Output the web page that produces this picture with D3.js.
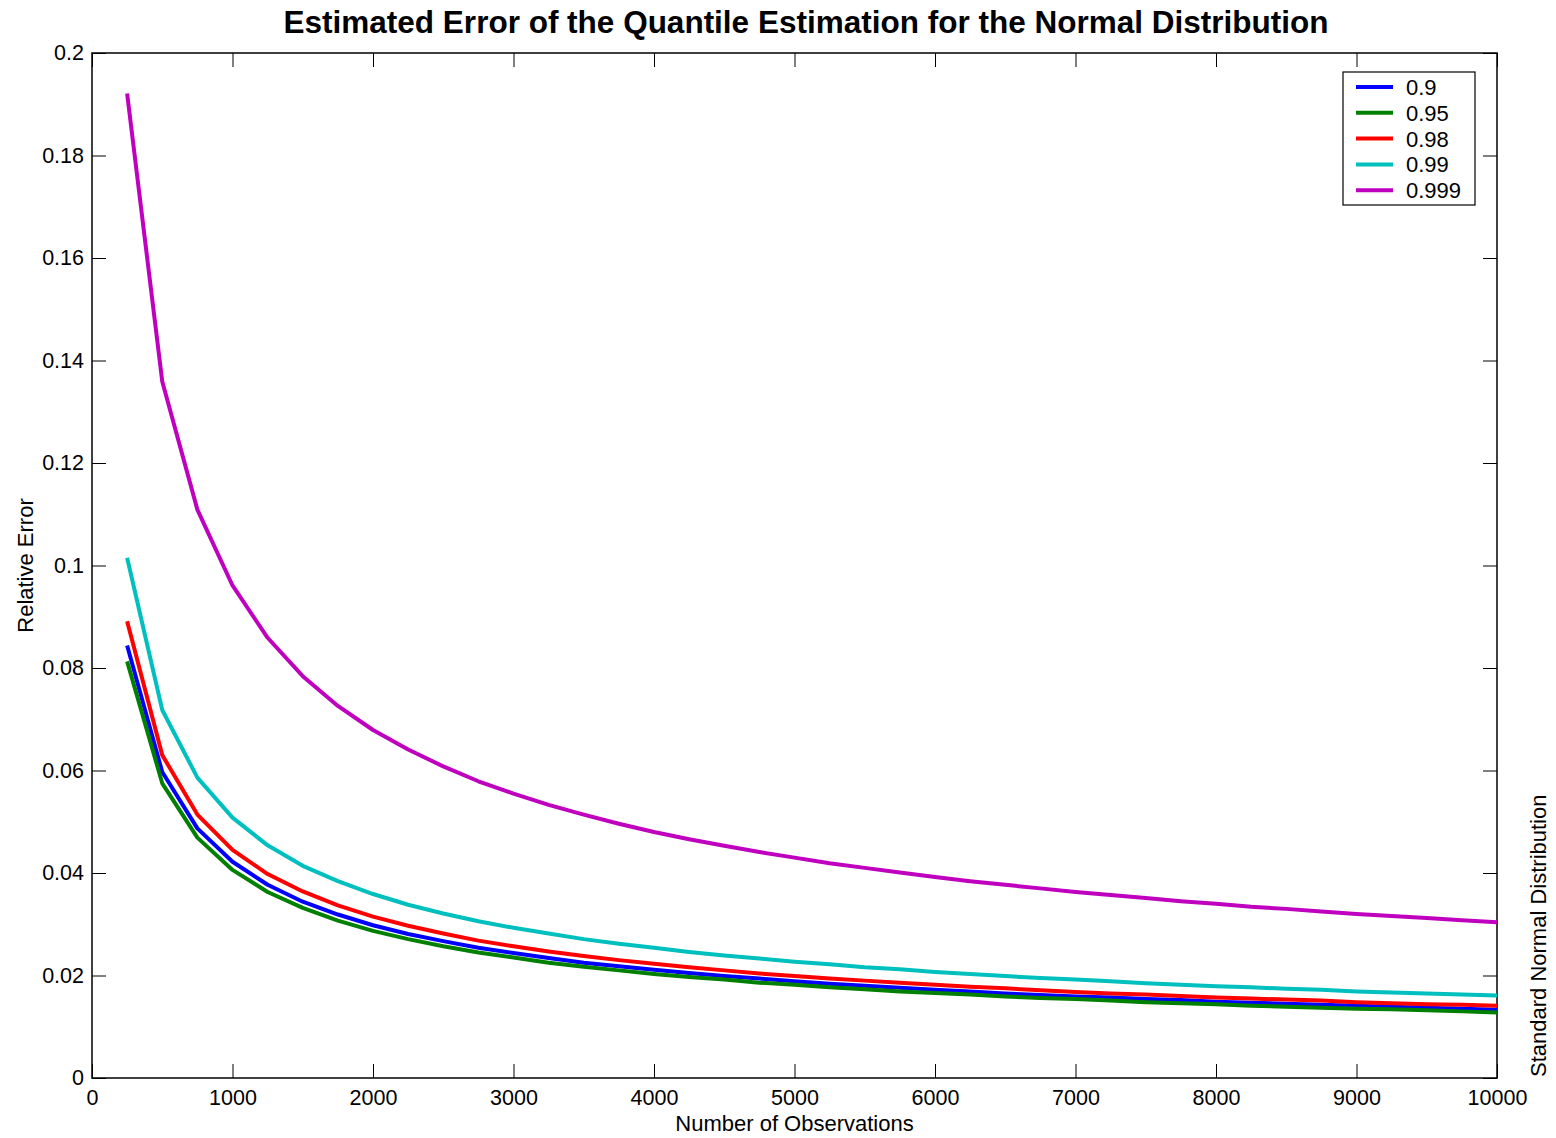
<!DOCTYPE html>
<html>
<head>
<meta charset="utf-8">
<script src="https://cdn.jsdelivr.net/npm/d3@7"></script>
<style>
  html, body { margin: 0; padding: 0; background: #fff; }
  svg { display: block; font-family: "Liberation Sans", Arial, Helvetica, sans-serif; }
</style>
</head>
<body>
<svg id="chart" width="1556" height="1138"></svg>
<script>
// Sample sizes (number of observations)
const observations = [
  250, 500, 750, 1000, 1250, 1500, 1750, 2000, 2250, 2500,
  2750, 3000, 3250, 3500, 3750, 4000, 4250, 4500, 4750, 5000,
  5250, 5500, 5750, 6000, 6250, 6500, 6750, 7000, 7250, 7500,
  7750, 8000, 8250, 8500, 8750, 9000, 9250, 9500, 9750, 10000
];

// Relative error of the estimated quantile, one array per probability level
const err090 = [
  0.0844, 0.0597, 0.0487, 0.0422, 0.0377, 0.0344, 0.0319, 0.0298, 0.0281, 0.0267,
  0.0254, 0.0244, 0.0234, 0.0225, 0.0218, 0.0211, 0.0205, 0.0199, 0.0194, 0.0189,
  0.0184, 0.0180, 0.0176, 0.0172, 0.0169, 0.0165, 0.0162, 0.0159, 0.0157, 0.0154,
  0.0152, 0.0149, 0.0147, 0.0145, 0.0143, 0.0141, 0.0139, 0.0137, 0.0135, 0.0133
];
const err095 = [
  0.0813, 0.0575, 0.0469, 0.0406, 0.0363, 0.0332, 0.0307, 0.0287, 0.0271, 0.0257,
  0.0245, 0.0235, 0.0225, 0.0217, 0.0210, 0.0203, 0.0197, 0.0192, 0.0186, 0.0182,
  0.0177, 0.0173, 0.0169, 0.0166, 0.0163, 0.0159, 0.0156, 0.0154, 0.0151, 0.0148,
  0.0146, 0.0144, 0.0141, 0.0139, 0.0137, 0.0135, 0.0134, 0.0132, 0.0130, 0.0128
];
const err098 = [
  0.0891, 0.0630, 0.0514, 0.0445, 0.0398, 0.0364, 0.0337, 0.0315, 0.0297, 0.0282,
  0.0268, 0.0257, 0.0247, 0.0238, 0.0230, 0.0223, 0.0216, 0.0210, 0.0204, 0.0199,
  0.0194, 0.0190, 0.0186, 0.0182, 0.0178, 0.0175, 0.0171, 0.0168, 0.0165, 0.0163,
  0.0160, 0.0157, 0.0155, 0.0153, 0.0151, 0.0148, 0.0146, 0.0144, 0.0143, 0.0141
];
const err099 = [
  0.1015, 0.0718, 0.0586, 0.0508, 0.0454, 0.0414, 0.0384, 0.0359, 0.0338, 0.0321,
  0.0306, 0.0293, 0.0282, 0.0271, 0.0262, 0.0254, 0.0246, 0.0239, 0.0233, 0.0227,
  0.0222, 0.0216, 0.0212, 0.0207, 0.0203, 0.0199, 0.0195, 0.0192, 0.0189, 0.0185,
  0.0182, 0.0179, 0.0177, 0.0174, 0.0172, 0.0169, 0.0167, 0.0165, 0.0163, 0.0161
];
const err0999 = [
  0.1921, 0.1359, 0.1109, 0.0961, 0.0859, 0.0784, 0.0726, 0.0679, 0.0641, 0.0608,
  0.0579, 0.0555, 0.0533, 0.0514, 0.0496, 0.0480, 0.0466, 0.0453, 0.0441, 0.0430,
  0.0419, 0.0410, 0.0401, 0.0392, 0.0384, 0.0377, 0.0370, 0.0363, 0.0357, 0.0351,
  0.0345, 0.0340, 0.0334, 0.0330, 0.0325, 0.0320, 0.0316, 0.0312, 0.0308, 0.0304
];

const seriesNames = ["0.9", "0.95", "0.98", "0.99", "0.999"];
const seriesColors = ["#0000ff", "#008000", "#ff0000", "#00bfbf", "#bf00bf"];
const seriesValues = [err090, err095, err098, err099, err0999];

const xTicks = [0, 1000, 2000, 3000, 4000, 5000, 6000, 7000, 8000, 9000, 10000];
const yTicks = [0, 0.02, 0.04, 0.06, 0.08, 0.1, 0.12, 0.14, 0.16, 0.18, 0.2];

const margin = { left: 92, right: 59, top: 53, bottom: 60 };
const W = 1556, H = 1138;
const plotW = W - margin.left - margin.right;
const plotH = H - margin.top - margin.bottom;

const svg = d3.select("#chart");
const g = svg.append("g").attr("transform", `translate(${margin.left},${margin.top})`);

const x = d3.scaleLinear().domain([0, 10000]).range([0, plotW]);
const y = d3.scaleLinear().domain([0, 0.2]).range([plotH, 0]);

const tickLen = 14;
const tickFont = 21.5;
const labelFont = 22;

// Axes with inward ticks on all four sides
const axisStyle = sel => {
  sel.select(".domain").remove();
  sel.selectAll(".tick line").attr("stroke", "#000").attr("stroke-width", 1);
  sel.selectAll(".tick text").attr("fill", "#000").style("font-size", tickFont + "px")
    .style("font-family", "'Liberation Sans', Arial, sans-serif");
};

g.append("g").attr("transform", `translate(0,${plotH})`)
  .call(d3.axisBottom(x).tickValues(xTicks).tickFormat(d3.format("d"))
    .tickSizeInner(-tickLen).tickSizeOuter(0).tickPadding(7))
  .call(axisStyle)
  .selectAll(".tick text").attr("dy", "0.95em");

g.append("g")
  .call(d3.axisTop(x).tickValues(xTicks).tickFormat("")
    .tickSizeInner(-tickLen).tickSizeOuter(0))
  .call(axisStyle);

g.append("g")
  .call(d3.axisLeft(y).tickValues(yTicks).tickFormat(d => d === 0 ? "0" : String(+d.toFixed(2)))
    .tickSizeInner(-tickLen).tickSizeOuter(0).tickPadding(8))
  .call(axisStyle);

g.append("g").attr("transform", `translate(${plotW},0)`)
  .call(d3.axisRight(y).tickValues(yTicks).tickFormat("")
    .tickSizeInner(-tickLen).tickSizeOuter(0))
  .call(axisStyle);

// Plot frame
g.append("rect")
  .attr("x", 0).attr("y", 0).attr("width", plotW).attr("height", plotH)
  .attr("fill", "none").attr("stroke", "#000").attr("stroke-width", 1.5);

// Curves
const line = d3.line()
  .x((d, i) => x(observations[i]))
  .y(d => y(d));

seriesValues.forEach((vals, si) => {
  g.append("path")
    .datum(vals)
    .attr("d", line)
    .attr("fill", "none")
    .attr("stroke", seriesColors[si])
    .attr("stroke-width", 4)
    .attr("stroke-linejoin", "round");
});

// Legend
const legend = svg.append("g").attr("transform", "translate(1343,72)");
legend.append("rect")
  .attr("x", 0).attr("y", 0).attr("width", 132).attr("height", 133)
  .attr("fill", "#fff").attr("stroke", "#000").attr("stroke-width", 1.2);
seriesNames.forEach((name, i) => {
  const ry = 15 + i * 25.8;
  legend.append("line")
    .attr("x1", 13).attr("x2", 50).attr("y1", ry).attr("y2", ry)
    .attr("stroke", seriesColors[i]).attr("stroke-width", 4);
  legend.append("text")
    .attr("x", 63).attr("y", ry).attr("dy", "0.36em")
    .style("font-size", labelFont + "px").attr("fill", "#000")
    .text(name);
});

// Title and axis labels
svg.append("text")
  .attr("x", 806).attr("y", 33).attr("text-anchor", "middle")
  .style("font-size", "31.5px").style("font-weight", "bold")
  .text("Estimated Error of the Quantile Estimation for the Normal Distribution");

svg.append("text")
  .attr("x", margin.left + plotW / 2).attr("y", 1131).attr("text-anchor", "middle")
  .style("font-size", labelFont + "px")
  .text("Number of Observations");

svg.append("text")
  .attr("transform", `translate(33,${margin.top + plotH / 2}) rotate(-90)`)
  .attr("text-anchor", "middle")
  .style("font-size", labelFont + "px")
  .text("Relative Error");

svg.append("text")
  .attr("transform", `translate(1546,1077) rotate(-90)`)
  .attr("text-anchor", "start")
  .style("font-size", labelFont + "px")
  .text("Standard Normal Distribution");
</script>
</body>
</html>
